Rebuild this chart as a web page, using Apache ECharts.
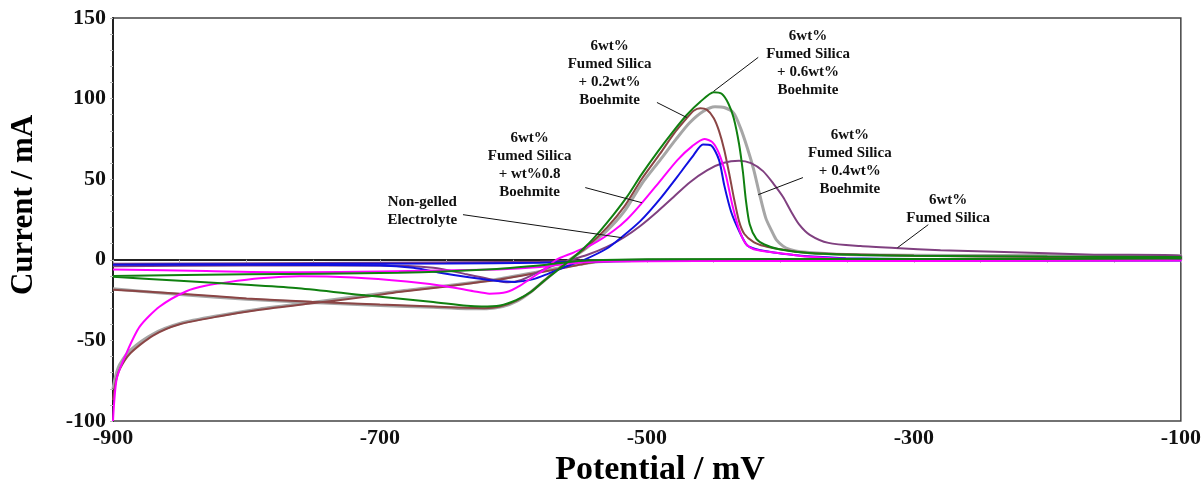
<!DOCTYPE html>
<html>
<head>
<meta charset="utf-8">
<title>Cyclic voltammetry</title>
<script src="https://cdn.jsdelivr.net/npm/echarts@6/dist/echarts.min.js"></script>
<style>
  html, body { margin: 0; background: #fff; }
  #chart { width: 1204px; height: 487px; }
</style>
</head>
<body>
<div id="chart"></div>
<script>
// [potential mV, current mA], forward scan then reverse scan
var nonGelled = [
  [-900,-3],[-800,-3],[-700,-3.5],[-675,-5],[-655,-8],[-636,-10.5],[-615,-12.8],[-599,-13.7],[-585,-12],[-575,-9],[-560,-4],[-547,0],
  [-530,7],[-519,14],[-505,24],[-490,38],[-475,54],[-465,65],[-458,71.5],[-452,71],[-446,62],[-442,46],[-437,30],[-431,18],[-425,9],
  [-418,6.5],[-405,4.5],[-390,3],[-376,2],[-351,1],[-300,0.5],[-200,0],[-100,-0.5],
  [-100,-0.8],[-300,-0.5],[-450,-0.5],[-540,-1],[-580,-1.8],[-650,-2.3],[-800,-2.7],[-900,-3]
];
var fumedSilica = [
  [-900,-4],[-800,-3.5],[-700,-3.5],[-660,-5],[-635,-9],[-615,-12.5],[-604,-14],[-594,-12.5],[-580,-7],[-565,-2],[-545,3],
  [-530,8],[-517,14],[-505,21],[-492,30],[-480,39],[-468,48],[-455,55.5],[-443,60],[-431,61.5],[-422,60],[-413,55],[-405,47],
  [-398,39],[-392,30],[-386,22],[-378,15.5],[-364,10.5],[-340,8.5],[-314,7.3],[-280,6],[-239,5],[-200,4],[-165,3.2],[-100,2.6],
  [-100,0.5],[-300,0.3],[-500,0],[-545,-0.5],[-580,-1.2],[-700,-1.8],[-900,-2.5]
];
var boehmite08 = [
  [-900,-100],[-899,-87],[-897,-73],[-890,-58],[-880,-41.5],[-865,-29],[-845,-19.5],[-830,-16],[-815,-14],[-790,-11.5],[-760,-10.2],
  [-720,-11],[-680,-13.5],[-650,-16.5],[-630,-19.5],[-618,-21],[-605,-20],[-595,-16],[-585,-10.5],[-575,-5],[-568,0],[-555,4.5],
  [-540,10],[-525,18],[-515,25],[-504,35],[-490,49],[-477,62],[-466,70.5],[-457,75],[-451,73],[-446,66],[-441,53],[-436,34],
  [-431,19],[-426,10],[-420,6.5],[-405,4.5],[-390,3],[-381,2],[-351,0.6],[-300,0.3],[-100,0],
  [-100,-0.5],[-300,-0.7],[-450,-0.8],[-540,-1.2],[-560,-2.5],[-580,-4.5],[-612,-6],[-700,-7.2],[-760,-7.8],[-830,-7],[-900,-6]
];
var boehmite06 = [
  [-900,-10.5],[-850,-13],[-800,-15.5],[-761,-17.6],[-711,-22],[-662,-26],[-635,-28.5],[-624,-29],[-610,-28.3],[-598,-25],[-587,-20],
  [-577,-13],[-567,-6.5],[-557,0],[-545,9],[-535,18],[-525,28],[-515,39],[-504,53],[-492,67],[-480,80],[-470,90],[-460,98],
  [-450,104],[-444,103],[-439,97],[-435,88],[-431,72],[-428,54],[-426,38],[-423,22],[-418,13],[-412,9.5],[-401,6.5],[-376,4],
  [-340,3],[-300,2.5],[-200,2],[-100,1.8],
  [-100,0.8],[-300,0.5],[-500,0.3],[-545,-0.5],[-560,-1.5],[-575,-3],[-620,-6],[-686,-8],[-800,-9],[-900,-10]
];
var boehmite02 = [
  [-900,-18.6],[-850,-21],[-800,-24],[-751,-26],[-700,-27.8],[-660,-29],[-635,-29.8],[-622,-30],[-610,-29],[-598,-25.5],[-587,-20],
  [-577,-13],[-567,-6],[-557,0.5],[-545,8],[-530,20],[-517,33],[-504,50],[-490,66],[-480,78],[-470,88],[-465,92.5],[-460,94],
  [-455,93],[-450,88],[-446,80],[-442,68],[-438,52],[-435,39],[-431,24],[-427,16],[-420,11],[-412,8.5],[-400,6.5],[-388,5],
  [-376,4],[-350,3.5],[-300,2.5],[-200,1.8],[-100,1.5],
  [-100,0.3],[-300,0],[-500,-0.3],[-537,-1.2],[-550,-3],[-562,-5],[-585,-8.5],[-612,-12.4],[-650,-16.5],[-686,-20],[-711,-23],
  [-751,-27],[-790,-31],[-820,-35],[-850,-40],[-870,-47],[-887,-58],[-895,-68],[-898,-76],[-900,-87]
];
var boehmite04 = [
  [-900,-18],[-850,-21.5],[-800,-24.5],[-751,-26.5],[-700,-28.3],[-660,-29.5],[-635,-30.3],[-620,-30.3],[-608,-29],[-597,-25.5],
  [-587,-20],[-577,-13],[-567,-6],[-557,0.5],[-545,7.5],[-530,18],[-517,30],[-504,47],[-490,62],[-478,75],[-468,85],[-458,92],
  [-449,95],[-442,94.5],[-435,91],[-430,82],[-425,70],[-420,56],[-416,42],[-411,26],[-406,17],[-403,12.4],[-398,8.5],[-393,6.5],
  [-385,5],[-350,3.3],[-250,2.7],[-100,2.5],
  [-100,0],[-300,-0.3],[-500,-0.5],[-540,-1.5],[-562,-4.5],[-612,-12],[-686,-19.5],[-751,-26.5],[-790,-30.5],[-820,-34.5],
  [-850,-39.5],[-870,-46],[-887,-56],[-895,-65],[-898,-72],[-900,-80]
];

// curve labels: text, text centre, leader start, leader end (data coords)
var notes = [
  { text: '6wt%\nFumed Silica\n+ 0.2wt%\nBoehmite', at: [-528, 115.7], from: [-492.5, 97.6], to: [-470.2, 88.3] },
  { text: '6wt%\nFumed Silica\n+ 0.6wt%\nBoehmite', at: [-379.3, 121.9], from: [-416.6, 125.6], to: [-450.1, 104.5] },
  { text: '6wt%\nFumed Silica\n+ wt%0.8\nBoehmite', at: [-587.9, 58.5], from: [-546.2, 44.8], to: [-503.7, 35.4] },
  { text: 'Non-gelled\nElectrolyte', at: [-668.3, 30.5], from: [-637.8, 28], to: [-518.6, 13.7] },
  { text: '6wt%\nFumed Silica\n+ 0.4wt%\nBoehmite', at: [-348, 60.9], from: [-383.1, 51], to: [-416.6, 40.4] },
  { text: '6wt%\nFumed Silica', at: [-274.3, 31.4], from: [-289.2, 21.8], to: [-312.3, 7.5] }
];

var serif = '"Liberation Serif", "Times New Roman", serif';
var chart = echarts.init(document.getElementById('chart'));

function curve(name, data, color, width) {
  return {
    name: name,
    type: 'line',
    data: data,
    showSymbol: false,
    smooth: 0.25,
    lineStyle: { color: color, width: width },
    silent: true
  };
}

chart.setOption({
  animation: false,
  grid: { left: 113, right: 17, top: 18, bottom: 66, show: true, borderColor: '#444', borderWidth: 1.5 },
  xAxis: {
    type: 'value', min: -900, max: -100, interval: 200,
    axisLine: { lineStyle: { color: '#222', width: 2 } },
    axisTick: { show: true, length: 3, lineStyle: { color: '#bbb' } },
    minorTick: { show: true, splitNumber: 4, length: 3, lineStyle: { color: '#bbb' } },
    splitLine: { show: false },
    axisLabel: { color: '#111', fontFamily: serif, fontWeight: 'bold', fontSize: 22, margin: 6 }
  },
  yAxis: {
    type: 'value', min: -100, max: 150, interval: 50,
    axisLine: { show: true, lineStyle: { color: '#222', width: 2 } },
    axisTick: { show: true, length: 3, lineStyle: { color: '#bbb' } },
    minorTick: { show: true, splitNumber: 5, length: 3, lineStyle: { color: '#bbb' } },
    splitLine: { show: false },
    axisLabel: { color: '#111', fontFamily: serif, fontWeight: 'bold', fontSize: 22, margin: 7 }
  },
  series: [
    curve('6wt% Fumed Silica + 0.4wt% Boehmite', boehmite04, '#a6a6a6', 3),
    curve('6wt% Fumed Silica + 0.2wt% Boehmite', boehmite02, '#8b4545', 2),
    curve('6wt% Fumed Silica', fumedSilica, '#804080', 2),
    curve('Non-gelled Electrolyte', nonGelled, '#1010e0', 2),
    curve('6wt% Fumed Silica + wt%0.8 Boehmite', boehmite08, '#ff00ff', 2),
    curve('6wt% Fumed Silica + 0.6wt% Boehmite', boehmite06, '#108010', 2)
  ]
});

var graphics = [
  {
    type: 'text', x: 24, y: 205, rotation: Math.PI / 2,
    style: { text: 'Current / mA', fill: '#000', font: 'bold 31px ' + serif, textAlign: 'center', textVerticalAlign: 'middle' }
  },
  {
    type: 'text', x: 660, y: 470,
    style: { text: 'Potential / mV', fill: '#000', font: 'bold 34px ' + serif, textAlign: 'center', textVerticalAlign: 'middle' }
  }
];
notes.forEach(function (n) {
  var p = chart.convertToPixel({ gridIndex: 0 }, n.at);
  var a = chart.convertToPixel({ gridIndex: 0 }, n.from);
  var b = chart.convertToPixel({ gridIndex: 0 }, n.to);
  graphics.push({
    type: 'line', z: 50,
    shape: { x1: a[0], y1: a[1], x2: b[0], y2: b[1] },
    style: { stroke: '#111', lineWidth: 1 }
  });
  graphics.push({
    type: 'text', x: p[0], y: p[1], z: 51,
    style: { text: n.text, fill: '#111', font: 'bold 15px ' + serif, lineHeight: 18, textAlign: 'center', textVerticalAlign: 'middle' }
  });
});
chart.setOption({ graphic: graphics });
</script>
</body>
</html>
